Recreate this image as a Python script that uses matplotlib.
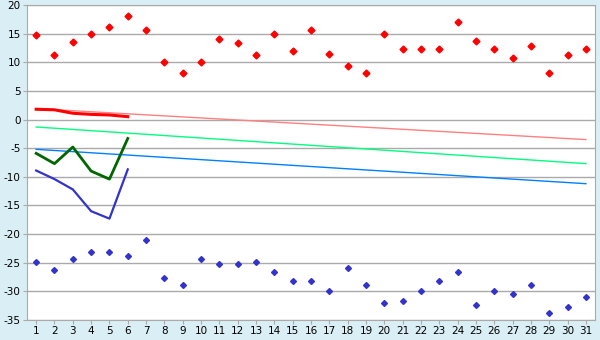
import matplotlib
matplotlib.use("Agg")
import matplotlib.pyplot as plt

plt.rcParams["axes.unicode_minus"] = False

# --- data ---
days = list(range(1, 32))
red_points = [14.7, 11.2, 13.5, 15.0, 16.1, 18.0, 15.6, 10.0, 8.2, 10.0,
              14.0, 13.3, 11.2, 15.0, 11.9, 15.6, 11.4, 9.3, 8.2, 15.0,
              12.3, 12.3, 12.3, 17.0, 13.7, 12.3, 10.7, 12.8, 8.2, 11.2, 12.3]
blue_points = [-24.9, -26.2, -24.4, -23.2, -23.2, -23.9, -21.1, -27.7, -28.9, -24.4,
               -25.3, -25.3, -24.9, -26.7, -28.2, -28.2, -30.0, -26.0, -28.9, -32.1,
               -31.7, -30.0, -28.2, -26.7, -32.4, -30.0, -30.5, -28.9, -33.8, -32.8, -31.0]

first_days = [1, 2, 3, 4, 5, 6]
red_line = [1.8, 1.7, 1.1, 0.9, 0.8, 0.5]
green_line = [-5.9, -7.7, -4.8, -9.0, -10.4, -3.3]
blue_line = [-8.9, -10.4, -12.2, -16.0, -17.3, -8.7]

trend_x = [1, 31]
red_trend = [1.9, -3.5]
green_trend = [-1.3, -7.7]
blue_trend = [-5.2, -11.2]

yticks = list(range(-35, 21, 5))

bg = "#d9eef5"
grid_col = "#aaaaaa"

fig = plt.figure(figsize=(6, 3.4), dpi=100, facecolor=bg)
ax = fig.add_axes([0.045, 0.0588, 0.9467, 0.9265])
ax.set_facecolor("white")

for y in yticks:
    ax.axhline(y, color=grid_col, lw=1, zorder=0)

# trend lines
ax.plot(trend_x, red_trend, color="#ff8080", lw=1, zorder=2)
ax.plot(trend_x, green_trend, color="#00ff80", lw=1, zorder=2)
ax.plot(trend_x, blue_trend, color="#0080ff", lw=1, zorder=2)

# thick lines
ax.plot(first_days, red_line, color="#ff0000", lw=2.2, zorder=3)
ax.plot(first_days, green_line, color="#006600", lw=2, zorder=3)
ax.plot(first_days, blue_line, color="#3333cc", lw=1.6, zorder=3)

# scatter points
ax.plot(days, red_points, ls="none", marker="D", ms=3.5, color="#ff0000", zorder=4)
ax.plot(days, blue_points, ls="none", marker="D", ms=3, color="#3333cc", zorder=4)

ax.set_xlim(0.5, 31.5)
ax.set_ylim(-35, 20)
ax.set_xticks(days)
ax.set_yticks(yticks)
ax.tick_params(labelsize=7.5, color=grid_col, length=3, pad=1.5)
for s in ax.spines.values():
    s.set_color(grid_col)

fig.savefig("out.png", dpi=100, facecolor=bg)
